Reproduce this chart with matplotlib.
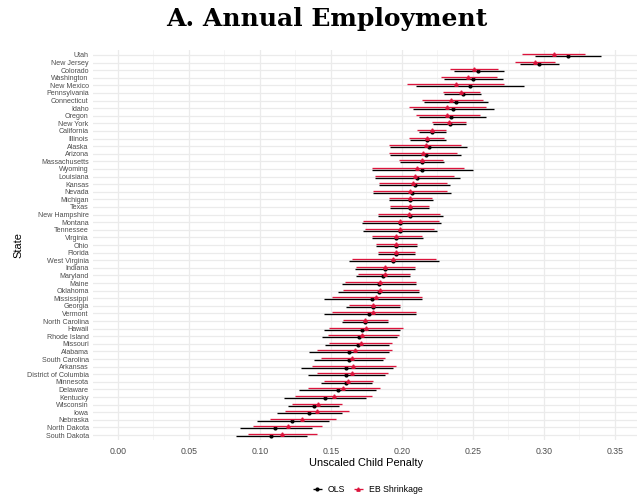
import matplotlib
matplotlib.use("Agg")
import matplotlib.pyplot as plt
import numpy as np

plt.rcParams['font.family'] = ['Liberation Sans', 'DejaVu Sans']

# states, top to bottom
states = ["Utah", "New Jersey", "Colorado", "Washington", "New Mexico", "Pennsylvania",
          "Connecticut", "Idaho", "Oregon", "New York", "California", "Illinois", "Alaska",
          "Arizona", "Massachusetts", "Wyoming", "Louisiana", "Kansas", "Nevada", "Michigan",
          "Texas", "New Hampshire", "Montana", "Tennessee", "Virginia", "Ohio", "Florida",
          "West Virginia", "Indiana", "Maryland", "Maine", "Oklahoma", "Mississippi", "Georgia",
          "Vermont", "North Carolina", "Hawaii", "Rhode Island", "Missouri", "Alabama",
          "South Carolina", "Arkansas", "District of Columbia", "Minnesota", "Delaware",
          "Kentucky", "Wisconsin", "Iowa", "Nebraska", "North Dakota", "South Dakota"]

ols_est = [0.317, 0.297, 0.254, 0.250, 0.248, 0.243, 0.238, 0.236, 0.235, 0.234, 0.221, 0.218, 0.219,
           0.217, 0.214, 0.214, 0.211, 0.209, 0.207, 0.206, 0.206, 0.206, 0.199, 0.199, 0.196, 0.196, 0.196,
           0.194, 0.188, 0.187, 0.184, 0.184, 0.179, 0.180, 0.177, 0.174, 0.172, 0.170, 0.169, 0.163,
           0.163, 0.161, 0.161, 0.161, 0.155, 0.146, 0.138, 0.135, 0.123, 0.111, 0.108]
ols_lo = [0.294, 0.283, 0.237, 0.230, 0.210, 0.230, 0.216, 0.208, 0.212, 0.222, 0.212, 0.206, 0.192,
          0.192, 0.199, 0.179, 0.181, 0.184, 0.180, 0.191, 0.192, 0.183, 0.172, 0.173, 0.179, 0.182, 0.183,
          0.163, 0.167, 0.168, 0.158, 0.155, 0.145, 0.161, 0.145, 0.158, 0.145, 0.144, 0.146, 0.135,
          0.138, 0.129, 0.134, 0.143, 0.128, 0.117, 0.120, 0.112, 0.098, 0.086, 0.083]
ols_hi = [0.340, 0.311, 0.272, 0.271, 0.286, 0.256, 0.261, 0.265, 0.259, 0.245, 0.231, 0.231, 0.246,
          0.242, 0.230, 0.250, 0.241, 0.234, 0.235, 0.222, 0.219, 0.229, 0.228, 0.225, 0.215, 0.211, 0.209,
          0.226, 0.209, 0.206, 0.210, 0.212, 0.214, 0.199, 0.210, 0.190, 0.199, 0.197, 0.191, 0.191,
          0.187, 0.194, 0.188, 0.179, 0.182, 0.175, 0.156, 0.158, 0.149, 0.137, 0.133]

eb_est = [0.307, 0.294, 0.251, 0.247, 0.238, 0.242, 0.235, 0.232, 0.232, 0.233, 0.221, 0.218, 0.217,
          0.215, 0.214, 0.211, 0.209, 0.208, 0.206, 0.206, 0.206, 0.205, 0.199, 0.199, 0.196, 0.196, 0.196,
          0.194, 0.188, 0.188, 0.185, 0.185, 0.182, 0.180, 0.180, 0.174, 0.175, 0.172, 0.171, 0.167,
          0.165, 0.166, 0.165, 0.162, 0.159, 0.152, 0.141, 0.140, 0.130, 0.120, 0.116]
eb_lo = [0.285, 0.280, 0.234, 0.228, 0.204, 0.229, 0.214, 0.205, 0.210, 0.221, 0.211, 0.205, 0.191,
         0.191, 0.198, 0.179, 0.181, 0.184, 0.180, 0.191, 0.192, 0.183, 0.173, 0.174, 0.179, 0.182, 0.183,
         0.165, 0.168, 0.169, 0.160, 0.159, 0.151, 0.163, 0.151, 0.159, 0.149, 0.148, 0.149, 0.140,
         0.143, 0.137, 0.140, 0.145, 0.134, 0.125, 0.123, 0.118, 0.107, 0.095, 0.092]
eb_hi = [0.329, 0.308, 0.268, 0.267, 0.272, 0.255, 0.257, 0.259, 0.255, 0.245, 0.231, 0.230, 0.242,
         0.239, 0.229, 0.244, 0.237, 0.232, 0.232, 0.221, 0.219, 0.227, 0.226, 0.223, 0.214, 0.211, 0.209,
         0.224, 0.209, 0.206, 0.210, 0.212, 0.214, 0.199, 0.210, 0.190, 0.201, 0.198, 0.193, 0.193,
         0.188, 0.196, 0.190, 0.180, 0.185, 0.179, 0.158, 0.163, 0.154, 0.144, 0.140]

x_ticks = [0.00, 0.05, 0.10, 0.15, 0.20, 0.25, 0.30, 0.35]

crimson = "#DC143C"
n = len(states)
ypos = np.arange(n)[::-1]
dodge = 0.13

fig = plt.figure(figsize=(6.37, 4.99), dpi=100)
# panel runs off the right edge like in the original
ax = fig.add_axes([0.1457, 0.119, 0.8584, 0.780])

ols_est_a = np.array(ols_est)
eb_est_a = np.array(eb_est)
ax.errorbar(ols_est_a, ypos - dodge,
            xerr=[ols_est_a - np.array(ols_lo), np.array(ols_hi) - ols_est_a],
            fmt="o", color="black", ecolor="black", elinewidth=0.95, capsize=0,
            markersize=2.0, label="OLS", zorder=3)
ax.errorbar(eb_est_a, ypos + dodge,
            xerr=[eb_est_a - np.array(eb_lo), np.array(eb_hi) - eb_est_a],
            fmt="^", color=crimson, ecolor=crimson, elinewidth=0.95, capsize=0,
            markersize=2.4, label="EB Shrinkage", zorder=4)

ax.set_xlim(-0.0175, 0.3675)
ax.set_ylim(-0.6, n - 0.4)
ax.set_xticks(x_ticks)
ax.set_xticklabels([f"{t:.2f}" for t in x_ticks])
ax.set_xticks(np.arange(0.025, 0.35, 0.05), minor=True)
ax.set_yticks(ypos)
ax.set_yticklabels(states)

ax.grid(True, which="major", color="#EBEBEB", linewidth=0.9)
ax.grid(True, which="minor", axis="x", color="#F2F2F2", linewidth=0.5)
ax.set_axisbelow(True)
for s in ax.spines.values():
    s.set_visible(False)
ax.tick_params(which="both", length=0)
ax.tick_params(axis="y", labelsize=5.1, labelcolor="#4D4D4D", pad=3)
ax.tick_params(axis="x", labelsize=6.3, labelcolor="#4D4D4D", pad=5)

fig.text(366 / 637, 1 - 463 / 499, "Unscaled Child Penalty", fontsize=7.9,
         ha="center", va="center")
fig.text(18 / 637, 1 - 245 / 499, "State", fontsize=7.9, rotation=90,
         ha="center", va="center")

fig.text(326.5 / 637, 1 - 26 / 499, "A. Annual Employment", fontsize=18,
         fontweight="bold", family="DejaVu Serif", ha="center", va="baseline")

fig.legend(loc="center", bbox_to_anchor=(367 / 637, 1 - 490 / 499), ncol=2, frameon=False,
           fontsize=6.3, handlelength=1.4, handletextpad=0.5, columnspacing=0.8)

fig.savefig("out.png", dpi=100)
